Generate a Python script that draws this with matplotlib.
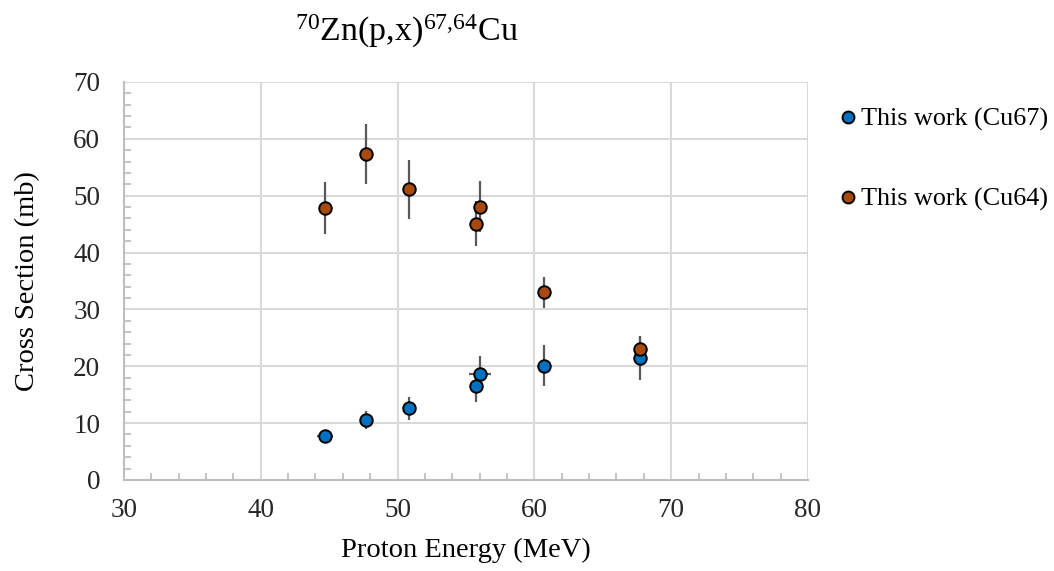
import matplotlib.pyplot as plt
from matplotlib.ticker import MultipleLocator

plt.rcParams['font.family'] = ['Liberation Serif', 'DejaVu Serif']
plt.rcParams['mathtext.fontset'] = 'custom'
plt.rcParams['mathtext.rm'] = 'Liberation Serif'
plt.rcParams['mathtext.it'] = 'Liberation Serif:italic'

# Cu67 data
e67 = [44.7, 47.7, 50.8, 55.7, 56.0, 60.7, 67.7]
de67 = [0.6, 0.0, 0.0, 0.0, 0.8, 0.0, 0.0]
xs67 = [7.8, 10.6, 12.6, 16.6, 18.6, 20.1, 21.4]
dxs67 = [0.5, 1.6, 2.0, 2.8, 3.2, 3.6, 3.9]

# Cu64 data
e64 = [44.7, 47.7, 50.8, 55.7, 56.0, 60.7, 67.7]
xs64 = [47.8, 57.3, 51.1, 45.1, 48.1, 33.0, 23.1]
dxs64 = [4.6, 5.3, 5.2, 4.0, 4.4, 2.7, 2.2]

blue = '#0070C0'
orange = '#A84A0C'
errc = '#595959'

fig = plt.figure(figsize=(10.54, 5.71), dpi=100)
ax = fig.add_axes([0.1176, 0.1594, 0.649, 0.697])

ax.errorbar(e67, xs67, yerr=dxs67, xerr=de67, fmt='none', ecolor=errc,
            elinewidth=1.6, capsize=0, zorder=3)
ax.errorbar(e64, xs64, yerr=dxs64, fmt='none', ecolor=errc,
            elinewidth=1.6, capsize=0, zorder=3)
ax.plot(e67, xs67, 'o', ms=9, mfc=blue, mec='black', mew=1.4, zorder=4,
        label='This work (Cu67)')
ax.plot(e64, xs64, 'o', ms=9, mfc=orange, mec='black', mew=1.4, zorder=5,
        label='This work (Cu64)')

ax.set_xlim(30, 80)
ax.set_ylim(0, 70)
ax.xaxis.set_major_locator(MultipleLocator(10))
ax.xaxis.set_minor_locator(MultipleLocator(2))
ax.yaxis.set_major_locator(MultipleLocator(10))
ax.yaxis.set_minor_locator(MultipleLocator(2))
ax.grid(True, which='major', color='#D9D9D9', lw=1.5)
ax.set_axisbelow(True)

for s in ['top', 'right']:
  ax.spines[s].set_visible(False)
for s in ['left', 'bottom']:
  ax.spines[s].set_color('#BFBFBF')
  ax.spines[s].set_linewidth(1.5)

ax.tick_params(which='major', length=0, labelsize=19.5, colors='#262626')
ax.tick_params(axis='x', which='major', pad=13)
ax.tick_params(axis='y', which='major', pad=17)
ax.tick_params(which='minor', direction='in', length=5, color='#BFBFBF', width=1.3)

ax.set_xlabel('Proton Energy (MeV)', fontsize=20.5, labelpad=11)
ax.set_ylabel('Cross Section (mb)', fontsize=20.5, labelpad=24)
fig.text(0.386, 0.945, r'$^{70}$Zn(p,x)$^{67{,}64}$Cu', fontsize=24.5,
         ha='center', va='center')

fig.legend(loc='upper left', bbox_to_anchor=(0.772, 0.853), frameon=False,
           fontsize=18.8, markerscale=0.95, handlelength=0.8,
           handletextpad=0.1, labelspacing=2.17)

plt.savefig('out.png', dpi=100)
